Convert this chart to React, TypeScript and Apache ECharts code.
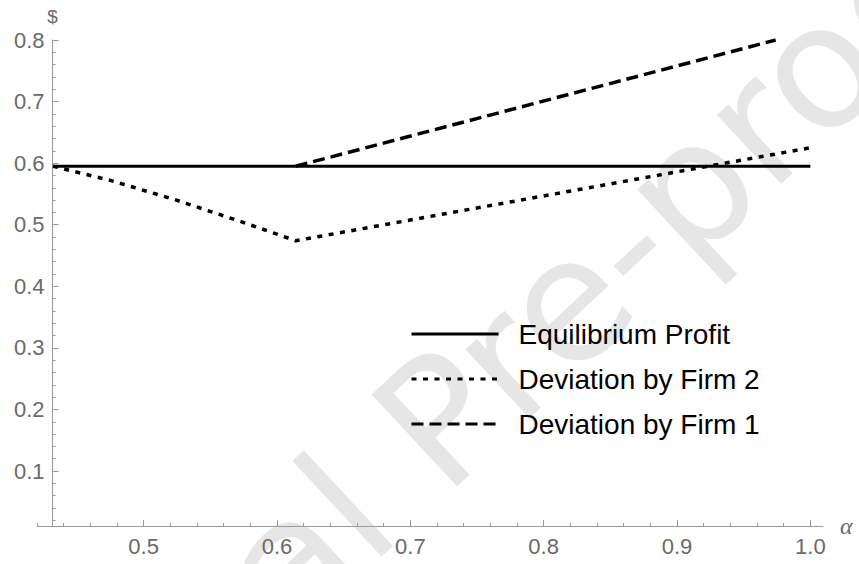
import React, { useEffect, useRef } from "react";
import * as echarts from "echarts";

// ---- data ----
const alphaEquilibrium = [0.432, 1.0];
const profitEquilibrium = [0.595, 0.595];

const alphaFirm2 = [0.432, 0.475, 0.523, 0.573, 0.614, 1.0];
const profitFirm2 = [0.595, 0.572, 0.541, 0.505, 0.474, 0.625];

const alphaFirm1 = [0.614, 0.974];
const profitFirm1 = [0.595, 0.8];

const xTickLabels = [0.5, 0.6, 0.7, 0.8, 0.9, 1.0];
const yTickLabels = [0.1, 0.2, 0.3, 0.4, 0.5, 0.6, 0.7, 0.8];

const seriesNames = ["Equilibrium Profit", "Deviation by Firm 2", "Deviation by Firm 1"];

const X_MIN = 0.42;
const X_MAX = 1.0095;
const Y_MIN = 0.0107;
const Y_MAX = 0.8;

function minorTicks(start: number, end: number, step: number): number[] {
  const out: number[] = [];
  const n = Math.round((end - start) / step);
  for (let i = 0; i <= n; i++) out.push(Math.round((start + i * step) * 1000) / 1000);
  return out;
}

const pair = (xs: number[], ys: number[]) => xs.map((x, i) => [x, ys[i]]);

const FONT = '"Liberation Sans", Arial, sans-serif';
const AXIS_COLOR = "#9a9a9a";
const LABEL_COLOR = "#6a6a6a";

export default function App() {
  const ref = useRef<HTMLDivElement>(null);
  useEffect(() => {
    if (!ref.current) return;
    const chart = echarts.init(ref.current, undefined, { renderer: "svg" });
    const xMinor = minorTicks(0.42, 1.0, 0.02);
    const yMinor = minorTicks(0.02, 0.8, 0.02);
    const yOffset = -15.6;
    chart.setOption({
      animation: false,
      backgroundColor: "#ffffff",
      textStyle: { fontFamily: FONT },
      graphic: [
        {
          type: "text",
          x: -12,
          y: 960,
          rotation: (43 * Math.PI) / 180,
          z: -10,
          silent: true,
          style: {
            text: "Journal Pre-proof",
            fontSize: 172,
            fontFamily: '"DejaVu Sans", sans-serif',
            fill: "#e6e6e6",
            align: "left",
            verticalAlign: "bottom",
          },
        },
      ],
      grid: { left: 37, top: 40, width: 786, height: 486, containLabel: false },
      legend: {
        orient: "vertical",
        left: 405,
        top: 315,
        itemWidth: 87,
        itemHeight: 14,
        itemGap: 17,
        data: seriesNames,
        itemStyle: { opacity: 0 },
        lineStyle: { width: 3 },
        textStyle: { fontSize: 28, lineHeight: 28, color: "#000", fontFamily: FONT, padding: [0, 0, 0, 15] },
      },
      xAxis: [
        {
          type: "value",
          min: X_MIN,
          max: X_MAX,
          position: "bottom",
          axisLine: { show: true, onZero: false, lineStyle: { color: AXIS_COLOR, width: 1 } },
          axisTick: { show: true, inside: true, length: 3, customValues: xMinor, lineStyle: { color: AXIS_COLOR } },
          axisLabel: {
            customValues: xTickLabels,
            formatter: (v: number) => v.toFixed(1),
            color: LABEL_COLOR,
            fontSize: 22,
            margin: 9,
            fontFamily: FONT,
          },
          splitLine: { show: false },
          name: "α",
          nameLocation: "end",
          nameGap: 17,
          nameTextStyle: { color: LABEL_COLOR, fontSize: 24, fontStyle: "italic", fontFamily: '"Liberation Serif", serif' },
        },
        {
          type: "value",
          min: X_MIN,
          max: X_MAX,
          position: "bottom",
          axisLine: { show: false, onZero: false },
          axisTick: { show: true, inside: true, length: 6, customValues: xTickLabels, lineStyle: { color: AXIS_COLOR } },
          axisLabel: { show: false },
          splitLine: { show: false },
        },
      ],
      yAxis: [
        {
          type: "value",
          min: Y_MIN,
          max: Y_MAX,
          position: "left",
          offset: yOffset,
          axisLine: { show: true, onZero: false, lineStyle: { color: AXIS_COLOR, width: 1 } },
          axisTick: { show: true, inside: true, length: 3, customValues: yMinor, lineStyle: { color: AXIS_COLOR } },
          axisLabel: {
            customValues: yTickLabels,
            formatter: (v: number) => v.toFixed(1),
            color: LABEL_COLOR,
            fontSize: 22,
            margin: 8,
            fontFamily: FONT,
          },
          splitLine: { show: false },
          name: "$",
          nameLocation: "end",
          nameGap: 14,
          nameTextStyle: { color: LABEL_COLOR, fontSize: 19, fontFamily: FONT },
        },
        {
          type: "value",
          min: Y_MIN,
          max: Y_MAX,
          position: "left",
          offset: yOffset,
          axisLine: { show: false, onZero: false },
          axisTick: { show: true, inside: true, length: 6, customValues: yTickLabels, lineStyle: { color: AXIS_COLOR } },
          axisLabel: { show: false },
          splitLine: { show: false },
        },
      ],
      series: [
        {
          name: seriesNames[0],
          type: "line",
          data: pair(alphaEquilibrium, profitEquilibrium),
          symbol: "none",
          lineStyle: { color: "#000", width: 3, type: "solid" },
          itemStyle: { color: "#000" },
          z: 3,
        },
        {
          name: seriesNames[1],
          type: "line",
          data: pair(alphaFirm2, profitFirm2),
          symbol: "none",
          lineStyle: { color: "#000", width: 3.5, type: [5, 6.5] },
          itemStyle: { color: "#000" },
          z: 3,
        },
        {
          name: seriesNames[2],
          type: "line",
          data: pair(alphaFirm1, profitFirm1),
          symbol: "none",
          lineStyle: { color: "#000", width: 3.5, type: [12, 6] },
          itemStyle: { color: "#000" },
          z: 3,
        },
      ],
    });
    return () => chart.dispose();
  }, []);
  return <div ref={ref} style={{ position: "fixed", left: 0, top: 0, width: 859, height: 564 }} />;
}
